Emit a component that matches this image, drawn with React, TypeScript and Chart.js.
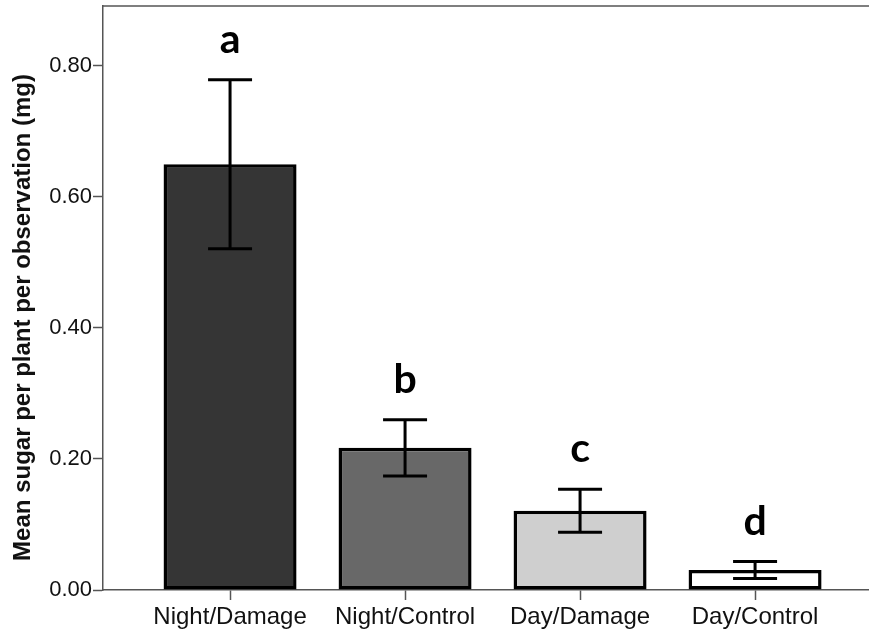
import React, { useEffect, useRef } from "react";
import { Chart, registerables } from "chart.js";

Chart.register(...registerables);

// Treatment groups along the x axis
const categories = ["Night/Damage", "Night/Control", "Day/Damage", "Day/Control"];
// Mean sugar per plant per observation (mg)
const means = [0.65, 0.217, 0.121, 0.0305];
// Error bar half-widths (mg)
const errors = [0.129, 0.043, 0.033, 0.013];
// Significance letters above each bar
const letters = ["a", "b", "c", "d"];
// Bar fills
const fills = ["#353535", "#686868", "#cfcfcf", "#ffffff"];
// Y-axis tick values
const yTicks = [0, 0.2, 0.4, 0.6, 0.8];

const AXIS_COLOR = "#555555";
const TITLE = "Mean sugar per plant per observation (mg)";

const overlay = {
  id: "overlay",
  afterDatasetsDraw(chart: any) {
    const { ctx, chartArea, scales } = chart;
    const meta = chart.getDatasetMeta(0);
    const y = scales.y;
    ctx.save();
    // frame line along the top of the plot
    ctx.strokeStyle = AXIS_COLOR;
    ctx.lineWidth = 1.5;
    ctx.beginPath();
    ctx.moveTo(chartArea.left, chartArea.top);
    ctx.lineTo(chartArea.right, chartArea.top);
    ctx.stroke();

    // error bars and letters
    ctx.strokeStyle = "#000";
    ctx.lineWidth = 3;
    ctx.fillStyle = "#000";
    ctx.font = "bold 41px Lato, 'Liberation Sans', sans-serif";
    ctx.textAlign = "center";
    ctx.textBaseline = "alphabetic";
    meta.data.forEach((bar: any, i: number) => {
      const cx = bar.x;
      const top = y.getPixelForValue(means[i] + errors[i]);
      const bot = y.getPixelForValue(means[i] - errors[i]);
      const half = 22;
      ctx.beginPath();
      ctx.moveTo(cx, top);
      ctx.lineTo(cx, bot);
      ctx.moveTo(cx - half, top);
      ctx.lineTo(cx + half, top);
      ctx.moveTo(cx - half, bot);
      ctx.lineTo(cx + half, bot);
      ctx.stroke();
      ctx.fillText(letters[i], cx, top - 27);
    });

    // y-axis title
    ctx.translate(23, chart.height / 2);
    ctx.rotate(-Math.PI / 2);
    ctx.font = "bold 24px 'Liberation Sans', Arial, sans-serif";
    ctx.fillStyle = "#111";
    ctx.textBaseline = "middle";
    ctx.fillText(TITLE, 0, 0);
    ctx.restore();
  },
};

export default function App() {
  const ref = useRef<HTMLCanvasElement>(null);

  useEffect(() => {
    document.body.style.margin = "0";
    const canvas = ref.current;
    if (!canvas) return;
    const chart = new Chart(canvas, {
      type: "bar",
      data: {
        datasets: [
          {
            data: categories.map((_, i) => ({ x: i, y: means[i] })),
            backgroundColor: fills,
            borderColor: "#000",
            borderWidth: 3.5,
            borderSkipped: false,
            categoryPercentage: 1,
            barPercentage: 0.76,
          },
        ],
      },
      options: {
        responsive: false,
        animation: false,
        layout: { padding: { top: 6, right: 0, left: 0, bottom: 0 } },
        plugins: {
          legend: { display: false },
          tooltip: { enabled: false },
        },
        scales: {
          x: {
            type: "linear",
            offset: false,
            min: -0.726,
            max: 3.651,
            afterBuildTicks: (scale: any) => {
              scale.ticks = categories.map((_, i) => ({ value: i }));
            },
            afterFit: (scale: any) => {
              scale.height = 45;
              scale.paddingLeft = 0;
              scale.paddingRight = 0;
            },
            border: { display: true, color: AXIS_COLOR, width: 1.5 },
            grid: {
              offset: false,
              drawOnChartArea: false,
              drawTicks: true,
              tickLength: 10,
              tickColor: AXIS_COLOR,
              tickWidth: 1.5,
            },
            ticks: {
              autoSkip: false,
              maxRotation: 0,
              padding: 3,
              color: "#111",
              font: { family: "'Liberation Sans', Arial, sans-serif", size: 24 },
              callback: (v: any) => categories[Math.round(Number(v))] ?? "",
            },
          },
          y: {
            min: 0,
            max: 0.8916,
            afterBuildTicks: (scale: any) => {
              scale.ticks = yTicks.map((v) => ({ value: v }));
            },
            afterFit: (scale: any) => {
              scale.width = 103;
              scale.paddingTop = 0;
              scale.paddingBottom = 0;
            },
            border: { display: true, color: AXIS_COLOR, width: 1.5 },
            grid: {
              drawOnChartArea: false,
              drawTicks: true,
              tickLength: 10,
              tickColor: AXIS_COLOR,
              tickWidth: 1.5,
            },
            ticks: {
              padding: 1,
              color: "#111",
              font: { family: "'Liberation Sans', Arial, sans-serif", size: 22 },
              callback: (v: any) => Number(v).toFixed(2),
            },
          },
        },
      },
      plugins: [overlay],
    });
    return () => chart.destroy();
  }, []);

  return (
    <div style={{ width: 869, height: 635, background: "#fff" }}>
      <canvas ref={ref} width={869} height={635} />
    </div>
  );
}
